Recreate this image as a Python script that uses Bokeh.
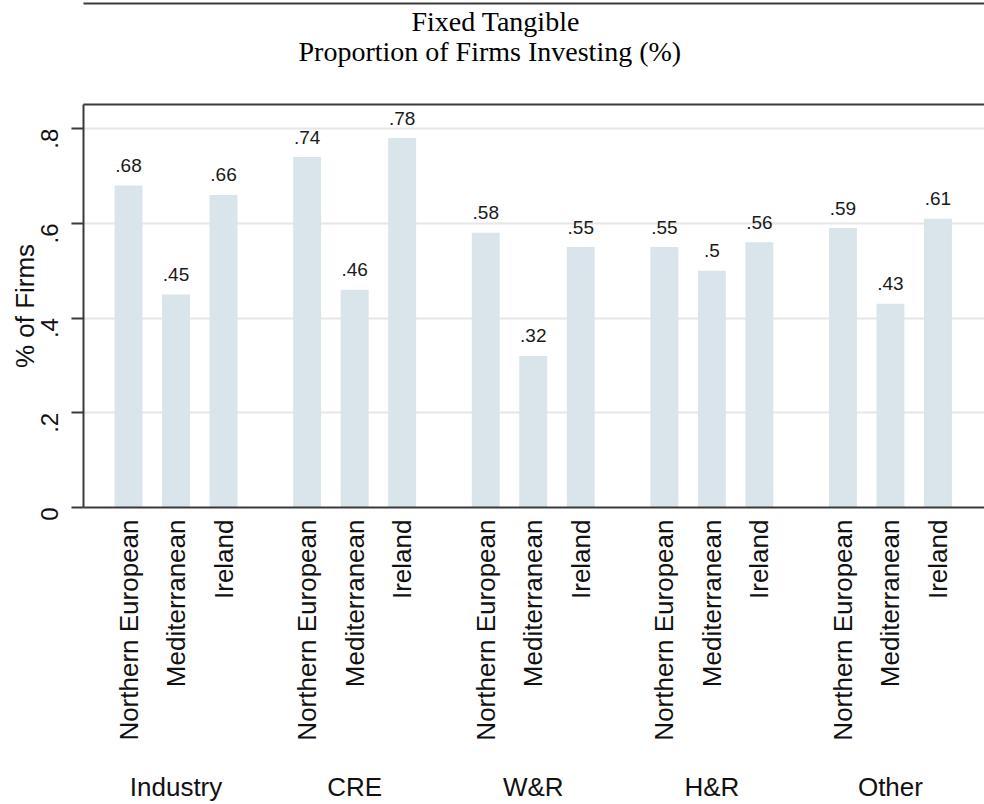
import math
from bokeh.plotting import figure
from bokeh.models import (ColumnDataSource, Range1d, LinearAxis, FixedTicker,
                          Title, CustomJSTickFormatter)
from bokeh.core.properties import value
from bokeh.embed import file_html
from bokeh.resources import INLINE

# ---- data ----
sectors = ["Industry", "CRE", "W&R", "H&R", "Other"]
regions = ["Northern European", "Mediterranean", "Ireland"]
northern_european = [0.68, 0.74, 0.58, 0.55, 0.59]
mediterranean = [0.45, 0.46, 0.32, 0.50, 0.43]
ireland = [0.66, 0.78, 0.55, 0.56, 0.61]
y_ticks = [0, 0.2, 0.4, 0.6, 0.8]
title_main = "Fixed Tangible"
title_sub = "Proportion of Firms Investing (%)"
y_label = "% of Firms"

# ---- layout constants ----
SUB_STEP = 25
GROUP_STEP = 94
BAR_W = 14.7
SANS = "Liberation Sans"
SERIF = "Liberation Serif"
BAR_COLOR = "#d9e4eb"
AXIS_COLOR = "#3a3a3a"
UP = math.pi / 2

series = [northern_european, mediterranean, ireland]
xs, tops, labels, region_of = [], [], [], {}
for g, sector in enumerate(sectors):
    for s, region in enumerate(regions):
        x = g * GROUP_STEP + s * SUB_STEP
        v = series[s][g]
        xs.append(x)
        tops.append(v)
        labels.append(("%g" % v).lstrip("0") if v != 0 else "0")
        region_of[x] = region
group_centers = [g * GROUP_STEP + SUB_STEP for g in range(len(sectors))]
sector_of = {c: sectors[i] for i, c in enumerate(group_centers)}

src = ColumnDataSource(dict(x=xs, top=tops, label=labels))

p = figure(width=984, height=804, output_backend="svg", toolbar_location=None,
           x_range=Range1d(-23.7, 450.5), y_range=Range1d(0, 0.851),
           min_border_left=83, min_border_right=0, min_border_top=104,
           min_border_bottom=0, outline_line_color=None,
           background_fill_color="white", border_fill_color="white")

p.vbar(x="x", top="top", width=BAR_W, source=src, fill_color=BAR_COLOR,
       line_color=None)
p.text(x="x", y="top", text="label", source=src, text_align="center",
       text_baseline="alphabetic", y_offset=-20, text_font=value(SANS),
       text_font_size="19px", text_color="#1a1a1a")

# grid
p.xgrid.grid_line_color = None
p.ygrid.ticker = FixedTicker(ticks=y_ticks[1:])
p.ygrid.grid_line_color = "#e6e6e6"
p.ygrid.grid_line_width = 2

# y axis
ya = p.yaxis[0]
ya.ticker = FixedTicker(ticks=y_ticks)
ya.formatter = CustomJSTickFormatter(
    code="return tick == 0 ? '0' : tick.toFixed(1).replace(/^0/, '');")
ya.major_label_orientation = UP
ya.major_label_text_font = SANS
ya.major_label_text_font_size = "24px"
ya.major_label_text_color = "#111111"
ya.major_label_standoff = 22
ya.major_tick_out = 12
ya.major_tick_in = 0
ya.minor_tick_line_color = None
ya.major_tick_line_width = 2
ya.major_tick_line_color = AXIS_COLOR
ya.axis_line_width = 2
ya.axis_line_color = AXIS_COLOR
ya.axis_label = y_label
ya.axis_label_text_font = SANS
ya.axis_label_text_font_size = "26px"
ya.axis_label_text_font_style = "normal"
ya.axis_label_text_color = "#111111"
ya.axis_label_standoff = -10

# x axis (regions)
xa = p.xaxis[0]
xa.ticker = FixedTicker(ticks=xs)
xa.major_label_overrides = region_of
xa.major_label_orientation = UP
xa.major_label_text_font = SANS
xa.major_label_text_font_size = "26px"
xa.major_label_text_color = "#111111"
xa.major_label_standoff = 12
xa.major_tick_out = 0
xa.major_tick_in = 0
xa.minor_tick_line_color = None
xa.major_tick_line_color = None
xa.axis_line_width = 2
xa.axis_line_color = AXIS_COLOR

# x axis (sectors)
xa2 = LinearAxis(ticker=FixedTicker(ticks=group_centers),
                 major_label_overrides=sector_of)
xa2.axis_line_color = None
xa2.major_tick_line_color = None
xa2.minor_tick_line_color = None
xa2.major_tick_out = 0
xa2.major_tick_in = 0
xa2.major_label_text_font = SANS
xa2.major_label_text_font_size = "26px"
xa2.major_label_text_color = "#111111"
xa2.major_label_standoff = 28
p.add_layout(xa2, "below")


def line_axis():
    ax = LinearAxis(ticker=FixedTicker(ticks=[]))
    ax.major_tick_line_color = None
    ax.minor_tick_line_color = None
    ax.major_tick_out = 0
    ax.major_tick_in = 0
    ax.major_label_standoff = 0
    ax.major_label_text_font_size = "0px"
    ax.axis_line_width = 2
    ax.axis_line_color = AXIS_COLOR
    return ax


# top frame line
p.add_layout(line_axis(), "above")

spacer = Title(text=" ", text_font_size="2px", standoff=36)
p.add_layout(spacer, "above")

t_sub = Title(text=title_sub, align="left", offset=215, standoff=-5,
              text_font=SERIF, text_font_size="28px",
              text_font_style="normal", text_color="#000000")
p.add_layout(t_sub, "above")
t_main = Title(text=title_main, align="left", offset=328, standoff=0,
               text_font=SERIF, text_font_size="28px",
               text_font_style="normal", text_color="#000000")
p.add_layout(t_main, "above")

# page rule above the titles
p.add_layout(line_axis(), "above")

open("out.html", "w").write(file_html(p, INLINE))
